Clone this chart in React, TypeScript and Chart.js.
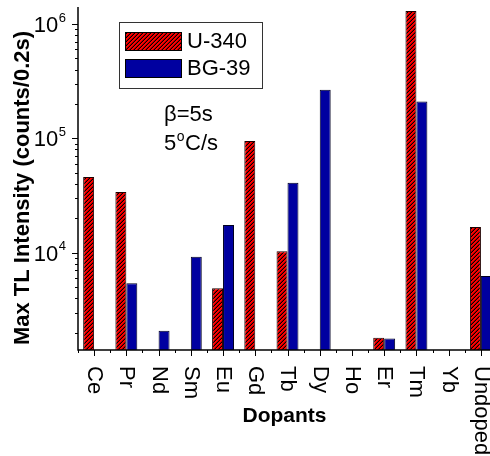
import React, { useEffect, useRef } from "react";
import { Chart, registerables } from "chart.js";

Chart.register(...registerables);

// Dopant categories along the x axis
const categories = ["Ce", "Pr", "Nd", "Sm", "Eu", "Gd", "Tb", "Dy", "Ho", "Er", "Tm", "Yb", "Undoped"];

// Max TL intensity (counts/0.2s) per filter
const u340Values = [46000, 34000, null, null, 4900, 95000, 10300, null, null, 1800, 1300000, null, 16800];
const bg39Values = [null, 5400, 2080, 9200, 17500, null, 41000, 267000, null, 1780, 210000, null, 6250];

const seriesNames = ["U-340", "BG-39"];

// Log axis range and the decades that get a "10^n" label
const yMin = 1410;
const yMax = 1.41e6;
const labelledExponents = [4, 5, 6];

const annotationLines = ["β=5s"];

const FONT = '"Liberation Sans", Arial, Helvetica, sans-serif';
const BLUE = "#0000a0";

// Red fill with black "/" stripes, built pixel by pixel so it stays crisp
function makeHatch(ctx: CanvasRenderingContext2D): CanvasPattern | string {
  const tile = document.createElement("canvas");
  tile.width = 4;
  tile.height = 4;
  const g = tile.getContext("2d");
  if (!g) return "#ff0000";
  for (let y = 0; y < 4; y++) {
    for (let x = 0; x < 4; x++) {
      const k = (x + y) % 4;
      g.fillStyle = k === 3 ? "#000" : k === 2 ? "#a00000" : "#ff0000";
      g.fillRect(x, y, 1, 1);
    }
  }
  return ctx.createPattern(tile, "repeat") || "#ff0000";
}

const decorPlugin = {
  id: "decor",
  afterDatasetsDraw(chart: any) {
    const { ctx, chartArea: a, scales } = chart;
    const xs = scales.x;
    const ys = scales.y;
    ctx.save();
    ctx.strokeStyle = "#000";
    ctx.fillStyle = "#000";
    ctx.lineWidth = 1.5;

    // axis lines (left and bottom only)
    ctx.beginPath();
    ctx.moveTo(a.left, a.top);
    ctx.lineTo(a.left, a.bottom);
    ctx.lineTo(a.right, a.bottom);
    ctx.stroke();

    // y ticks: long at powers of ten, short in between
    ctx.lineWidth = 1;
    ctx.beginPath();
    for (let e = 3; e <= 6; e++) {
      for (let s = 1; s <= 9; s++) {
        const v = s * Math.pow(10, e);
        if (v <= yMin || v >= yMax) continue;
        const py = Math.round(ys.getPixelForValue(v)) + 0.5;
        const len = s === 1 ? 6 : 3;
        ctx.moveTo(a.left - len, py);
        ctx.lineTo(a.left, py);
      }
    }
    // x ticks: long at categories, short at boundaries
    categories.forEach((_, i) => {
      const px = Math.round(xs.getPixelForValue(i)) + 0.5;
      ctx.moveTo(px, a.bottom);
      ctx.lineTo(px, a.bottom + 6);
      const bx = Math.round(xs.getPixelForValue(i - 0.5)) + 0.5;
      ctx.moveTo(bx, a.bottom);
      ctx.lineTo(bx, a.bottom + 3);
    });
    ctx.stroke();

    // y tick labels 10^n
    labelledExponents.forEach((e) => {
      const py = ys.getPixelForValue(Math.pow(10, e));
      const right = a.left - 12;
      ctx.font = `13px ${FONT}`;
      ctx.textAlign = "right";
      ctx.textBaseline = "alphabetic";
      const exp = String(e);
      const expW = ctx.measureText(exp).width;
      ctx.fillText(exp, right, py - 2.5);
      ctx.font = `22px ${FONT}`;
      ctx.fillText("10", right - expW - 0.5, py + 7.8);
    });

    // x tick labels, rotated to read downward
    ctx.font = `22px ${FONT}`;
    ctx.textAlign = "left";
    ctx.textBaseline = "middle";
    categories.forEach((c, i) => {
      const px = xs.getPixelForValue(i);
      ctx.save();
      ctx.translate(px, a.bottom + 16);
      ctx.rotate(Math.PI / 2);
      ctx.fillText(c, 0, 0);
      ctx.restore();
    });

    // axis titles
    ctx.font = `bold 21px ${FONT}`;
    ctx.textAlign = "center";
    ctx.textBaseline = "alphabetic";
    ctx.fillText("Dopants", (a.left + a.right) / 2 - 3, 422);

    ctx.save();
    ctx.font = `bold 22px ${FONT}`;
    ctx.translate(29, 188);
    ctx.rotate(-Math.PI / 2);
    ctx.fillText("Max TL Intensity (counts/0.2s)", 0, 0);
    ctx.restore();

    // legend box
    const lx = 119.5, ly = 22.5, lw = 143, lh = 66;
    ctx.lineWidth = 1;
    ctx.strokeStyle = "#333";
    ctx.strokeRect(lx, ly, lw, lh);
    const datasets = chart.data.datasets;
    ctx.font = `22px ${FONT}`;
    ctx.textAlign = "left";
    ctx.textBaseline = "middle";
    datasets.forEach((ds: any, i: number) => {
      const sy = 32 + i * 27;
      ctx.fillStyle = ds.backgroundColor;
      ctx.fillRect(125, sy, 57, 19);
      ctx.strokeStyle = "#000";
      ctx.strokeRect(125.5, sy + 0.5, 56, 18);
      ctx.fillStyle = "#000";
      ctx.fillText(ds.label, 187, sy + 10);
    });

    // measurement conditions
    ctx.textBaseline = "alphabetic";
    ctx.font = `22px ${FONT}`;
    ctx.fillText(annotationLines[0], 164, 121);
    let tx = 164;
    ctx.fillText("5", tx, 150);
    tx += ctx.measureText("5").width + 0.5;
    ctx.font = `14px ${FONT}`;
    ctx.fillText("o", tx, 141);
    tx += ctx.measureText("o").width + 0.5;
    ctx.font = `22px ${FONT}`;
    ctx.fillText("C/s", tx, 150);

    ctx.restore();
  },
};

export default function App() {
  const canvasRef = useRef<HTMLCanvasElement | null>(null);

  useEffect(() => {
    const canvas = canvasRef.current;
    if (!canvas) return;
    const ctx = canvas.getContext("2d");
    if (!ctx) return;
    const hatch = makeHatch(ctx);

    const chart = new Chart(ctx, {
      type: "bar",
      data: {
        labels: categories,
        datasets: [
          {
            label: seriesNames[0],
            data: u340Values as any,
            backgroundColor: hatch as any,
            borderColor: "#200000",
            borderWidth: 1,
            categoryPercentage: 0.68,
            barPercentage: 1,
          },
          {
            label: seriesNames[1],
            data: bg39Values as any,
            backgroundColor: BLUE,
            borderColor: "#000020",
            borderWidth: 1,
            categoryPercentage: 0.68,
            barPercentage: 1,
          },
        ],
      },
      options: {
        responsive: false,
        animation: false,
        devicePixelRatio: 1,
        layout: { padding: { top: 7, right: 3, left: 0, bottom: 0 } },
        plugins: {
          legend: { display: false },
          tooltip: { enabled: false },
        },
        scales: {
          x: {
            type: "category",
            offset: true,
            grid: { display: false },
            border: { display: false },
            ticks: { display: false },
            afterFit: (s: any) => {
              s.height = 106;
            },
          },
          y: {
            type: "logarithmic",
            min: yMin,
            max: yMax,
            grid: { display: false },
            border: { display: false },
            ticks: { display: false, autoSkip: false },
            afterFit: (s: any) => {
              s.width = 78;
            },
          },
        },
      },
      plugins: [decorPlugin],
    });

    return () => chart.destroy();
  }, []);

  return (
    <div
      style={{
        position: "fixed",
        left: 0,
        top: 0,
        width: 490,
        height: 456,
        overflow: "hidden",
        background: "#fff",
      }}
    >
      <canvas ref={canvasRef} width={500} height={456} style={{ display: "block" }} />
    </div>
  );
}
